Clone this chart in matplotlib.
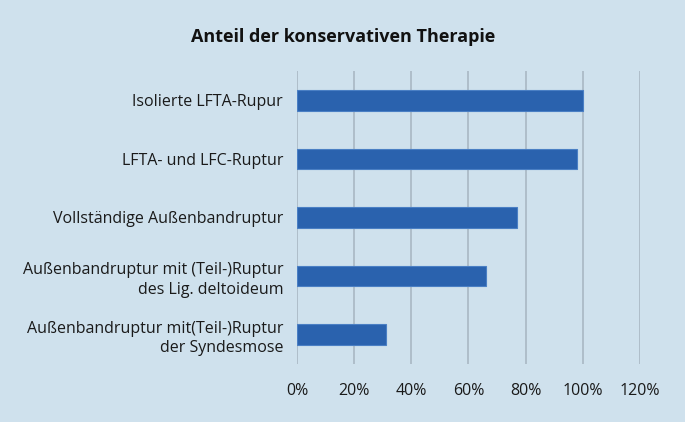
import matplotlib.pyplot as plt
from matplotlib.ticker import PercentFormatter

# Daten
kategorien = [
    "Isolierte LFTA-Rupur",
    "LFTA- und LFC-Ruptur",
    "Vollständige Außenbandruptur",
    "Außenbandruptur mit (Teil-)Ruptur\ndes Lig. deltoideum",
    "Außenbandruptur mit(Teil-)Ruptur\nder Syndesmose",
]
anteil = [1.00, 0.98, 0.77, 0.66, 0.31]
x_ticks = [0, 0.2, 0.4, 0.6, 0.8, 1.0, 1.2]

BG = "#cfe1ed"
BAR = "#2a62ae"

plt.rcParams['font.family'] = ['Open Sans', 'DejaVu Sans']

fig = plt.figure(figsize=(6.85, 4.22), dpi=100, facecolor=BG)
ax = fig.add_axes([0.4336, 0.1374, 0.5006, 0.6944], facecolor=BG)

y = list(range(len(kategorien)))
ax.barh(y, anteil, height=0.35, color=BAR, edgecolor="#4a7fc4", linewidth=0.8, zorder=3)

ax.set_ylim(len(kategorien) - 0.5, -0.5)
ax.set_xlim(0, 1.2)
ax.set_xticks(x_ticks)
ax.xaxis.set_major_formatter(PercentFormatter(1.0, decimals=0))
ax.set_yticks(y)
ax.set_yticklabels(kategorien, linespacing=1.3)

ax.grid(axis="x", color="#a9b7c3", linewidth=1.2, zorder=0)
for s in ax.spines.values():
    s.set_visible(False)
ax.tick_params(axis="both", length=0, labelsize=11.5, colors="#1a1a1a")
ax.tick_params(axis="y", pad=10)
ax.tick_params(axis="x", pad=14)

fig.text(0.501, 0.913, "Anteil der konservativen Therapie", ha="center", va="center",
         fontsize=13, fontweight="bold", color="#111111")

fig.savefig("out.png", dpi=100, facecolor=BG)
